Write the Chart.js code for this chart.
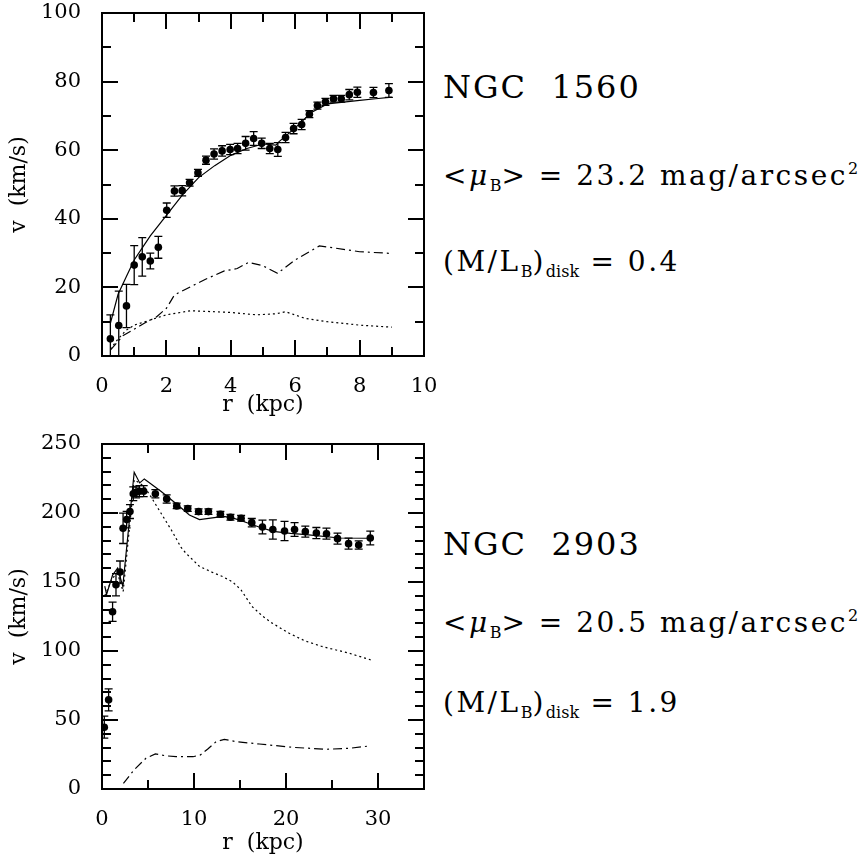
<!DOCTYPE html>
<html>
<head>
<meta charset="utf-8">
<title>Rotation curves NGC 1560 / NGC 2903</title>
<script src="https://cdn.jsdelivr.net/npm/chart.js@4.4.1/dist/chart.umd.min.js"></script>
<style>
  body { margin: 0; background: #fff; width: 864px; height: 860px; position: relative; overflow: hidden; font-family: 'DejaVu Serif', serif; color: #000; }
  canvas { position: absolute; left: 0; }
  .info { position: absolute; left: 443px; white-space: nowrap; font-size: 28px; line-height: 30px; letter-spacing: 2.5px; }
  .info.name { font-size: 32px; line-height: 32px; letter-spacing: 2px; }
  .info sub { font-size: 16px; letter-spacing: 0; vertical-align: -6px; line-height: 0; }
  .info sup { font-size: 16px; letter-spacing: 0; vertical-align: 11px; line-height: 0; }
  .info i { font-style: italic; }
</style>
</head>
<body>
<canvas id="chart1560" width="440" height="430" style="top:0"></canvas>
<canvas id="chart2903" width="440" height="430" style="top:430px"></canvas>

<div class="info name" style="top:71px">NGC&nbsp;&nbsp;1560</div>
<div class="info" style="top:161px">&lt;<i>μ</i><sub>B</sub>&gt; = 23.2 mag/arcsec<sup>2</sup></div>
<div class="info" style="top:247px">(M/L<sub>B</sub>)<sub>disk</sub> = 0.4</div>

<div class="info name" style="top:528px">NGC&nbsp;&nbsp;2903</div>
<div class="info" style="top:608px">&lt;<i>μ</i><sub>B</sub>&gt; = 20.5 mag/arcsec<sup>2</sup></div>
<div class="info" style="top:688px">(M/L<sub>B</sub>)<sub>disk</sub> = 1.9</div>

<script>
// NGC 1560 - observed rotation curve
const r1560 = [0.26, 0.52, 0.76, 1.0, 1.25, 1.5, 1.75, 2.01, 2.25, 2.49, 2.72, 2.98, 3.23, 3.48, 3.73, 3.98, 4.21,
  4.46, 4.71, 4.96, 5.21, 5.46, 5.70, 5.95, 6.2, 6.44, 6.69, 6.94, 7.19, 7.43, 7.68, 7.93, 8.43, 8.91];
const v1560 = [5.0, 8.9, 14.6, 26.5, 28.9, 27.7, 31.7, 42.5, 48.1, 48.2, 50.5, 53.4, 57.1, 58.9, 59.8, 60.2, 60.5,
  62.0, 63.4, 62.0, 60.5, 60.2, 63.7, 66.3, 67.5, 70.5, 73.0, 74.1, 75.0, 75.0, 76.2, 76.9, 76.8, 77.4];
const e1560 = [7, 10, 6.3, 5.7, 5.6, 2.3, 3.2, 2.1, 1.5, 1.5, 1, 1, 1.2, 1.5, 1.5, 1.5, 1.5,
  2, 2, 1.5, 1.5, 2, 1.5, 1.5, 1.5, 1, 1, 1, 1, 1, 1.5, 1.5, 1.5, 2];

// NGC 1560 - fit (total), stellar disk, gas
const fitR1560 = [0.26, 0.5, 0.75, 1.0, 1.25, 1.5, 2.0, 2.5, 3.0, 3.5, 4.0, 4.5, 5.0, 5.4, 5.5, 6.0, 6.5, 7.0, 7.5, 8.0, 8.5, 9.0];
const fitV1560 = [9.5, 18, 23, 28, 31.5, 35, 41, 47, 52, 55.5, 58.5, 60.5, 61.8, 61.5, 62.5, 66.5, 71, 73.5, 74, 74.5, 75, 75.5];
const diskR1560 = [0.26, 0.5, 0.75, 1.0, 1.5, 2.0, 2.75, 3.5, 4.0, 4.8, 5.4, 5.7, 6.3, 7.0, 8.0, 9.0];
const diskV1560 = [2, 5, 7.5, 9, 10.5, 12, 13.2, 12.9, 12.7, 12, 12.3, 12.9, 11, 10, 9, 8.4];
const gasR1560 = [0.26, 0.66, 0.93, 1.3, 1.69, 2.0, 2.25, 2.75, 3.2, 3.8, 4.2, 4.55, 5.0, 5.45, 6.0, 6.75, 7.5, 8.0, 9.0];
const gasV1560 = [1.7, 6, 7.4, 9.5, 11.4, 13.9, 17.8, 20.2, 22.3, 24.8, 25.5, 27.3, 26.3, 24.1, 28, 32.1, 31.1, 30.4, 29.9];

// NGC 2903 - observed rotation curve
const r2903 = [0.25, 0.72, 1.15, 1.52, 1.96, 2.29, 2.68, 3.04, 3.4, 3.7, 4.06, 4.53, 5.8, 7.03, 8.12, 9.32, 10.5,
  11.57, 12.87, 13.96, 15.12, 16.28, 17.44, 18.57, 19.84, 20.93, 22.1, 23.3, 24.4, 25.6, 26.8, 27.9, 29.16];
const v2903 = [44.8, 64.6, 128.4, 148, 157.2, 188.9, 195.2, 201, 213.9, 215, 215.8, 215.8, 213.9, 210.2, 205.1, 203.2, 201,
  201, 199.1, 196.9, 196.2, 193, 189.9, 188, 187, 188, 186.5, 185.5, 185, 181.4, 177.8, 176.8, 181.9];
const e2903 = [8, 8, 7, 8, 8, 11, 6, 5, 5, 4, 4, 4, 3, 3, 2, 2, 2,
  2, 2, 2, 2, 3, 5, 7, 7, 5, 4, 4, 4, 4, 4, 3, 5];

// NGC 2903 - fit (total), stellar disk, gas
const fitR2903 = [0.3, 0.5, 1.15, 1.7, 2.26, 3.5, 4.1, 4.6, 6.4, 8.2, 9.5, 10.6, 12.0, 13.2, 14.2, 15.3, 17.0, 18.6, 20.5, 22.2, 25.8, 29.1];
const fitV2903 = [147, 141, 155, 160, 146.8, 229.5, 221.8, 224.7, 215.7, 206, 198.5, 195.2, 196.5, 197.6, 196.5, 194, 190, 186.7, 185.2, 184.3, 181.9, 181.7];
const diskR2903 = [0.3, 1.15, 1.7, 2.3, 3.5, 4.0, 4.6, 5.3, 6.4, 7.6, 8.6, 9.1, 10.6, 12, 13.1, 14.2, 15.1, 16.3, 17.5, 18.5, 20.3, 22, 23.9, 26.8, 29.2];
const diskV2903 = [140, 153, 156, 143, 224, 222, 219, 212, 200, 187, 175, 171, 161.3, 157, 154, 150, 144.4, 132.3, 125, 120.2, 113, 107.5, 103.3, 98.5, 93.6];
const gasR2903 = [2.33, 3.5, 4.78, 5.8, 7.0, 8.05, 9.9, 10.7, 11.5, 12.4, 13.3, 14.6, 17.1, 20.7, 24.4, 26.9, 29.1];
const gasV2903 = [4.1, 14, 22.3, 25.4, 24, 23.4, 23.4, 24.7, 29, 34.3, 36, 34.3, 32.6, 30.2, 28.8, 29.5, 31.2];

const FONT = 'DejaVu Serif';

function pts(xs, ys) {
  return xs.map((x, i) => ({ x: x, y: ys[i] }));
}

function isMajor(v, step) {
  const q = v / step;
  return Math.abs(q - Math.round(q)) < 1e-6;
}

// frame + inward ticks on all four sides
function drawFrame(chart, o) {
  const ctx = chart.ctx;
  const a = chart.chartArea;
  const xs = chart.scales.x, ys = chart.scales.y;
  ctx.save();
  ctx.setLineDash([]);
  ctx.globalAlpha = 1;
  ctx.globalCompositeOperation = 'source-over';
  ctx.fillStyle = '#000';
  const nx = Math.round(o.xMax / o.xMinor);
  for (let i = 0; i <= nx; i++) {
    const v = i * o.xMinor;
    const px = Math.round(xs.getPixelForValue(v));
    const len = isMajor(v, o.xMajor) ? 16 : 9;
    ctx.fillRect(px - 1, a.bottom - len, 2, len);
    ctx.fillRect(px - 1, a.top, 2, len);
  }
  const ny = Math.round(o.yMax / o.yMinor);
  for (let i = 0; i <= ny; i++) {
    const v = i * o.yMinor;
    const py = Math.round(ys.getPixelForValue(v));
    const len = isMajor(v, o.yMajor) ? 16 : 9;
    ctx.fillRect(a.left, py - 1, len, 2);
    ctx.fillRect(a.right - len, py - 1, len, 2);
  }
  const L = Math.round(a.left), R = Math.round(a.right);
  const T = Math.round(a.top), B = Math.round(a.bottom);
  ctx.fillRect(L - 1, T - 1, R - L + 2, 2);
  ctx.fillRect(L - 1, B - 1, R - L + 2, 2);
  ctx.fillRect(L - 1, T - 1, 2, B - T + 2);
  ctx.fillRect(R - 1, T - 1, 2, B - T + 2);
  ctx.restore();
}

// vertical error bars with caps
function drawErrors(chart, o) {
  const ctx = chart.ctx;
  const a = chart.chartArea;
  const xs = chart.scales.x, ys = chart.scales.y;
  ctx.save();
  ctx.beginPath();
  ctx.rect(a.left, a.top, a.right - a.left, a.bottom - a.top);
  ctx.clip();
  ctx.setLineDash([]);
  ctx.strokeStyle = '#000';
  ctx.lineWidth = 1.3;
  o.r.forEach((r, i) => {
    const px = xs.getPixelForValue(r);
    const top = ys.getPixelForValue(o.v[i] + o.e[i]);
    const bot = ys.getPixelForValue(o.v[i] - o.e[i]);
    ctx.beginPath();
    ctx.moveTo(px, top); ctx.lineTo(px, bot);
    ctx.moveTo(px - 4, top); ctx.lineTo(px + 4, top);
    ctx.moveTo(px - 4, bot); ctx.lineTo(px + 4, bot);
    ctx.stroke();
  });
  ctx.restore();
}

function overlay(o) {
  return {
    id: 'overlay',
    beforeDatasetsDraw(chart) { drawFrame(chart, o); },
    afterDatasetsDraw(chart) { drawErrors(chart, o); drawFrame(chart, o); },
    afterDraw(chart) { drawFrame(chart, o); }
  };
}

function lineSet(xs, ys, dash) {
  return {
    data: pts(xs, ys),
    showLine: true,
    borderColor: '#000',
    borderWidth: 1.2,
    borderDash: dash,
    pointRadius: 0,
    tension: 0,
    fill: false
  };
}

// stop the tick-label overflow from pushing the plot area around
function noOverflow(s) {
  s.paddingTop = 0; s.paddingBottom = 0; s.paddingLeft = 0; s.paddingRight = 0;
}

function makeChart(id, o) {
  const ctx = document.getElementById(id).getContext('2d');
  return new Chart(ctx, {
    type: 'scatter',
    data: {
      datasets: [
        {
          data: pts(o.r, o.v),
          pointRadius: 3.8,
          pointBackgroundColor: '#000',
          pointBorderWidth: 0,
          showLine: false
        },
        lineSet(o.fitR, o.fitV, []),
        lineSet(o.diskR, o.diskV, [2, 3]),
        lineSet(o.gasR, o.gasV, [9, 4, 2, 4])
      ]
    },
    options: {
      responsive: false,
      animation: false,
      layout: { padding: { top: o.padTop, right: 16, left: 0, bottom: 0 } },
      scales: {
        x: {
          type: 'linear',
          min: 0,
          max: o.xMax,
          afterFit: s => { s.height = o.xHeight; noOverflow(s); },
          ticks: {
            stepSize: o.xMinor,
            autoSkip: false,
            maxRotation: 0,
            padding: 10,
            color: '#000',
            font: { family: FONT, size: 21 },
            callback: v => isMajor(v, o.xMajor) ? v : ''
          },
          grid: { display: false },
          border: { display: false },
          title: {
            display: true,
            text: 'r  (kpc)',
            color: '#000',
            font: { family: FONT, size: 22 },
            padding: { top: 0, bottom: o.xTitlePad }
          }
        },
        y: {
          type: 'linear',
          min: 0,
          max: o.yMax,
          afterFit: s => { s.width = 102; noOverflow(s); },
          ticks: {
            stepSize: o.yMinor,
            autoSkip: false,
            padding: 13,
            color: '#000',
            font: { family: FONT, size: 21 },
            callback: v => isMajor(v, o.yMajor) ? v : ''
          },
          grid: { display: false },
          border: { display: false },
          title: {
            display: true,
            text: 'v  (km/s)',
            color: '#000',
            font: { family: FONT, size: 22 },
            padding: { top: 6, bottom: 0 }
          }
        }
      },
      plugins: {
        legend: { display: false },
        tooltip: { enabled: false }
      }
    },
    plugins: [overlay(o)]
  });
}

makeChart('chart1560', {
  r: r1560, v: v1560, e: e1560,
  fitR: fitR1560, fitV: fitV1560,
  diskR: diskR1560, diskV: diskV1560,
  gasR: gasR1560, gasV: gasV1560,
  xMax: 10, xMinor: 1, xMajor: 2,
  yMax: 100, yMinor: 10, yMajor: 20,
  padTop: 13, xHeight: 74, xTitlePad: 12
});

makeChart('chart2903', {
  r: r2903, v: v2903, e: e2903,
  fitR: fitR2903, fitV: fitV2903,
  diskR: diskR2903, diskV: diskV2903,
  gasR: gasR2903, gasV: gasV2903,
  xMax: 35, xMinor: 5, xMajor: 10,
  yMax: 250, yMinor: 10, yMajor: 50,
  padTop: 14, xHeight: 71, xTitlePad: 4
});
</script>
</body>
</html>
